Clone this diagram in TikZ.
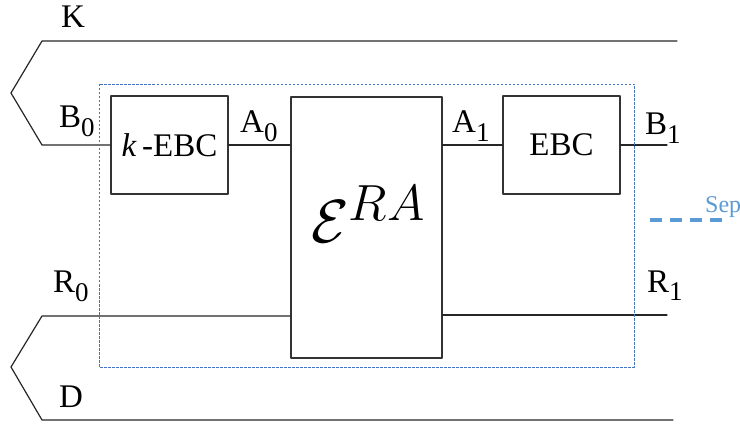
\documentclass[tikz,border=0pt]{standalone}
\usepackage{fontspec}
\setmainfont{Liberation Serif}
\definecolor{sepblue}{RGB}{91,155,213}
\definecolor{boxblue}{RGB}{68,114,196}
\newcommand{\lowidx}[1]{\raisebox{-9pt}{\fontsize{27}{27}\selectfont #1}}
\begin{document}
\begin{tikzpicture}[x=1pt,y=-1pt,line cap=round,line join=round,
  wire/.style={line width=1.2pt,black!85},
  blk/.style={draw=black!80,line width=1.3pt,minimum width=117pt,minimum height=98pt,
    inner sep=0pt,font=\fontsize{33}{38}\selectfont},
  lbl/.style={anchor=base west,inner sep=0pt,font=\fontsize{33}{38}\selectfont}]
\useasboundingbox (0,0) rectangle (740,425);
% boxes
\node[blk] (kebc) at (169.5,145) {\textit{k}\,-EBC};
\node[blk,minimum width=151pt,minimum height=261pt] (era) at (366.5,227.5) {};
\node[inner sep=0pt] (eralbl) at ([xshift=2pt,yshift=13pt]era.center)
  {\scalebox{2.45}{\fontsize{24.88}{30}\selectfont$\mathcal{E}^{RA}$}};
\node[blk] (ebc) at (561.5,145) {EBC};
% end points of the wires
\coordinate (kR) at (677,41);
\coordinate (kL) at (42,41);
\coordinate (ktip) at (11,93);
\coordinate (b0L) at (42,145);
\coordinate (b1R) at (667,145);
\coordinate (r0L) at (42,316);
\coordinate (dtip) at (11,367);
\coordinate (dL) at (42,420);
\coordinate (dR) at (673,420);
\coordinate (r1R) at (667,315);
% wires
\draw[wire] (kR) -- (kL) -- (ktip) -- (b0L) -- (kebc.west);
\draw[wire] (kebc.east) -- (era.west |- kebc.east);
\draw[wire] (era.east |- ebc.west) -- (ebc.west);
\draw[wire] (ebc.east) -- (b1R);
\draw[wire] (era.west |- r0L) -- (r0L) -- (dtip) -- (dL) -- (dR);
\draw[wire] (era.east |- r1R) -- (r1R);
% separation box
\draw[boxblue,line width=0.9pt,line cap=butt,dash pattern=on 2.5pt off 1.5pt] (99,84) rectangle (634,367);
% labels
\node[lbl] (klbl) at (61,28) {K};
\node[lbl] (b0lbl) at (59,128) {B\lowidx{0}};
\node[lbl] (a0lbl) at (240,133) {A\lowidx{0}};
\node[lbl] (a1lbl) at (452,133) {A\lowidx{1}};
\node[lbl] (b1lbl) at (645,135) {B\lowidx{1}};
\node[lbl] (r0lbl) at (53,293) {R\lowidx{0}};
\node[lbl] (r1lbl) at (647,292) {R\lowidx{1}};
\node[lbl] (dlbl) at (59,407) {D};
% legend
\node[anchor=base west,inner sep=0pt,text=sepblue,font=\fontsize{24}{28}\selectfont] (sep) at (705,213) {Sep};
\coordinate (sepS) at (650,220);
\coordinate (sepE) at (722,220);
\draw[sepblue,line width=3.5pt,line cap=butt,dash pattern=on 12pt off 8pt] (sepS) -- (sepE);
\end{tikzpicture}
\end{document}
